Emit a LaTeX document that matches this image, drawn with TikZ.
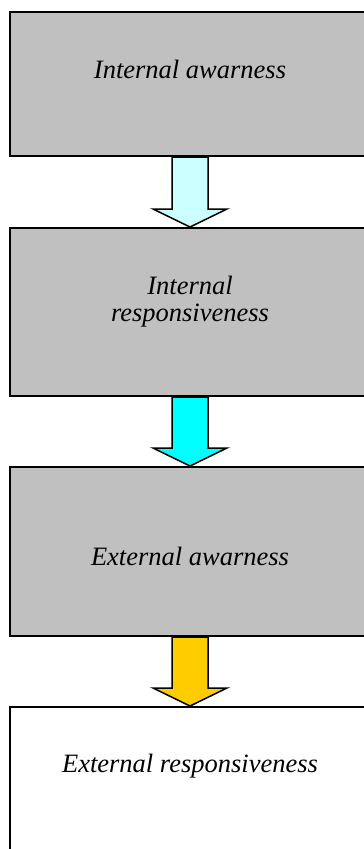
\documentclass[tikz,border=0pt]{standalone}
\usepackage{fontspec}
\setmainfont{Liberation Serif}
\usepackage{tikz}
\usetikzlibrary{calc}

\definecolor{boxgray}{HTML}{C0C0C0}
\definecolor{paleaqua}{HTML}{CCFFFF}
\definecolor{aqua}{HTML}{00FFFF}
\definecolor{amber}{HTML}{FFCC00}

\begin{document}
\begin{tikzpicture}[
  x=1pt, y=1pt,
  stage/.style={draw, line width=2pt, minimum width=360pt, inner sep=0pt},
  txt/.style={font=\fontsize{26.5}{27}\selectfont\itshape, align=center, anchor=base},
  flow/.style={draw, line width=1.5pt, line join=miter}
]
\useasboundingbox (0,0) rectangle (364,-849);

% stages
\node[stage, fill=boxgray, minimum height=144pt] (iaw) at (190,-84) {};
\node[stage, fill=boxgray, minimum height=168pt] (irs) at (190,-312) {};
\node[stage, fill=boxgray, minimum height=169pt] (eaw) at (190,-551.5) {};
\node[stage, fill=white, minimum height=150pt] (ers) at (190,-782) {};

% labels
\node[txt] (iawtxt) at (190,-78) {Internal awarness};
\node[txt, anchor=north] (irstxt) at (190,-273) {Internal\\responsiveness};
\node[txt] (eawtxt) at (190,-565) {External awarness};
\node[txt] (erstxt) at (190,-772) {External responsiveness};

% block arrows
\foreach \from/\to/\col in {iaw/irs/paleaqua, irs/eaw/aqua, eaw/ers/amber}{
  \draw[flow, fill=\col]
    ($(\from.south)+(-18,0)$) -- ($(\to.north)+(-18,18)$) -- ($(\to.north)+(-37,18)$)
    -- (\to.north) -- ($(\to.north)+(37,18)$) -- ($(\to.north)+(18,18)$)
    -- ($(\from.south)+(18,0)$) -- cycle;
}

\end{tikzpicture}
\end{document}
